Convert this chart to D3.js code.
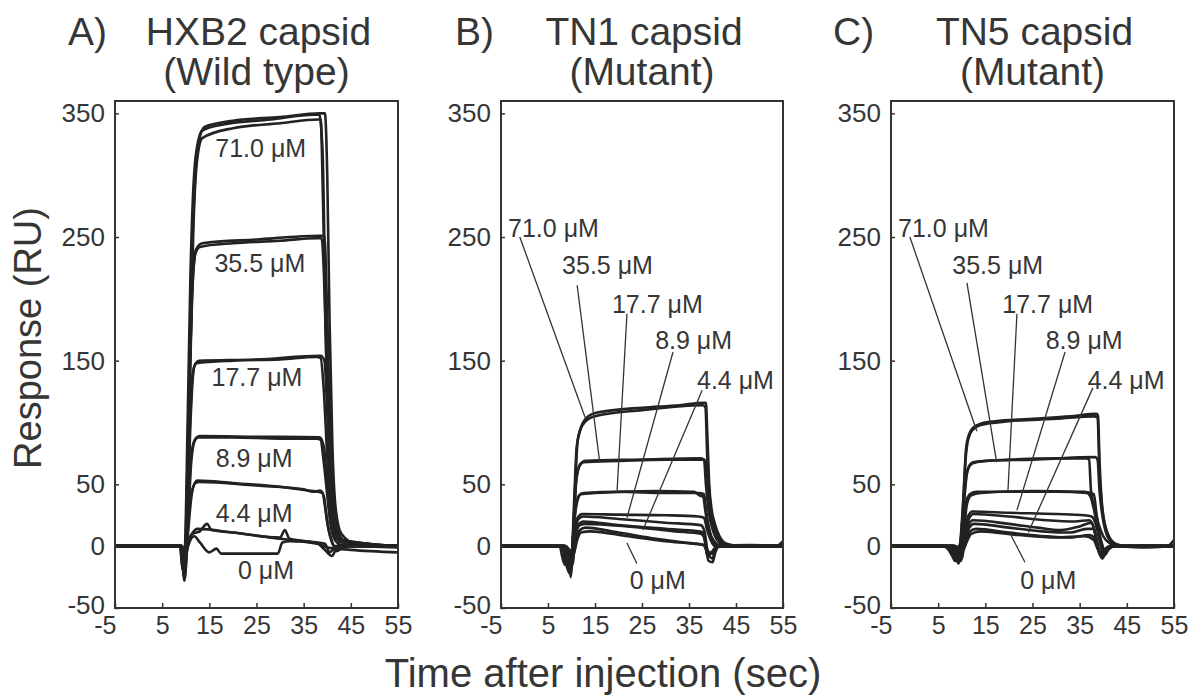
<!DOCTYPE html>
<html>
<head>
<meta charset="utf-8">
<script src="https://cdn.jsdelivr.net/npm/d3@7"></script>
<style>
  body { margin: 0; background: #fff; }
  text { font-family: "Liberation Sans", Arial, sans-serif; fill: #363636; }
</style>
</head>
<body>
<div id="chart"></div>
<script>
const width = 1197, height = 698;

const xDomain = [-5, 55];
const yDomain = [-50, 360];
const xTicks = [-5, 5, 15, 25, 35, 45, 55];
const yTicks = [-50, 0, 50, 150, 250, 350];

const concentrations = ["71.0", "35.5", "17.7", "8.9", "4.4", "0"];
const panelLetters = ["A)", "B)", "C)"];
const panelNames = ["HXB2 capsid", "TN1 capsid", "TN5 capsid"];
const panelTypes = ["(Wild type)", "(Mutant)", "(Mutant)"];

// sensorgrams: [time (s), response (RU)]
const tracesA = [
  // 71.0 uM
  [[-5,0],[8.8,0],[9.3,-18],[9.8,-5],[10.4,100],[11.0,220],[11.5,280],[12.2,318],[13.5,336],[18,341],[28,345],[37.2,349],[38.3,349],[39.0,320],[39.6,200],[40.3,90],[41.0,35],[42,12],[44,3],[48,0],[55,0]],
  [[-5,0],[9.0,0],[9.6,-22],[10.0,-10],[10.6,100],[11.3,230],[11.9,292],[12.8,328],[14,339],[20,344],[30,347],[38.5,350],[39.5,350],[40.0,300],[40.5,180],[41.1,80],[41.8,30],[43,10],[46,2],[55,0]],
  [[-5,0],[9.1,0],[9.7,-28],[10.2,0],[10.9,140],[11.6,255],[12.4,312],[13.5,330],[20,338],[30,342],[38,345],[38.6,345],[39.1,280],[39.8,150],[40.6,60],[41.5,20],[43,5],[55,0]],
  // 35.5 uM
  [[-5,0],[8.8,0],[9.4,-20],[9.9,-3],[10.6,110],[11.3,200],[12.0,236],[13,242],[20,245],[30,247],[38,249],[38.8,249],[39.3,220],[39.9,140],[40.6,60],[41.4,20],[43,6],[46,1],[55,0]],
  [[-5,0],[9.0,0],[9.6,-24],[10.1,0],[10.8,120],[11.5,215],[12.2,240],[13.5,245],[25,248],[38.5,251],[39.4,251],[39.9,200],[40.5,110],[41.2,45],[42,15],[44,3],[55,0]],
  // 17.7 uM
  [[-5,0],[8.9,0],[9.5,-20],[10,0],[10.8,90],[11.5,140],[12.2,148],[20,150],[30,151],[37.8,153],[38.6,152],[39.2,130],[39.9,80],[40.6,35],[41.5,12],[43,3],[55,0]],
  [[-5,0],[9.1,0],[9.7,-26],[10.2,-5],[11,100],[11.8,145],[12.8,150],[25,151],[38.6,154],[39.4,150],[40,110],[40.7,55],[41.5,20],[43,5],[55,0]],
  // 8.9 uM
  [[-5,0],[9,0],[9.6,-22],[10.1,0],[10.9,60],[11.7,84],[12.5,88],[20,88],[30,87],[37.8,87],[38.6,86],[39.2,70],[39.9,45],[40.6,20],[41.5,6],[43,1],[55,0]],
  [[-5,0],[9.2,0],[9.8,-18],[10.3,5],[11.2,70],[12,86],[13,89],[25,88.5],[38.4,88],[39.3,80],[40,50],[40.8,22],[42,6],[55,0]],
  // 4.4 uM
  [[-5,0],[9,0],[9.6,-20],[10.1,0],[11,38],[11.8,50],[12.5,53],[20,51],[30,48],[36,45],[38,44],[39,43],[39.6,30],[40.2,15],[41,4],[42,-4],[43,-2],[45,0],[55,0]],
  [[-5,0],[9.2,0],[9.8,-15],[10.3,3],[11.2,40],[12,51],[13,52],[25,49],[35,46],[37,44],[38.5,45],[39.3,40],[39.9,22],[40.6,8],[41.5,0],[44,0],[55,-1]],
  // 0 uM
  [[-5,0],[9.2,0],[9.8,-12],[10.4,0],[11.5,10],[13,12],[14.5,18],[15.5,13],[20,11],[30,7],[31,13],[32,6],[38,3],[39.5,2],[40.5,-5],[41.5,-2],[45,0],[55,0]],
  [[-5,0],[9.3,0],[9.9,-10],[10.5,0],[11.8,8],[13,3],[15,-5],[16.5,-2],[17.5,-6],[29.5,-6],[30.5,3],[32,4],[38,2],[40,-1],[45,-3],[55,-5]],
  [[-5,0],[9,0],[9.6,-15],[10.2,0],[11.3,10],[12.5,14],[20,11],[30,6],[38,2],[39.5,-3],[41,-8],[42,-2],[45,0],[55,0]]
];

const tracesB = [
  // 71.0 uM
  [[-5,0],[7.5,0],[8,-8],[8.6,-15],[9.3,-5],[9.8,-25],[10.3,0],[10.8,50],[11.3,85],[12,96],[13,103],[14.5,107],[17,109],[25,112],[33,114],[38.3,116],[38.6,116],[38.9,90],[39.3,50],[39.8,30],[40.5,18],[41.5,8],[43,2],[46,0],[55,0]],
  [[-5,0],[8,0],[8.7,-10],[9.5,-20],[10.1,-5],[10.6,40],[11.1,80],[11.8,93],[13,101],[15,105],[25,110],[38,114],[38.5,112],[38.9,70],[39.5,35],[40.3,18],[41.5,6],[44,0],[55,0]],
  // 35.5 uM
  [[-5,0],[8,0],[8.7,-12],[9.6,-22],[10.2,0],[10.9,50],[11.6,64],[12.6,68],[20,69],[30,70],[38,70],[38.5,69],[38.9,45],[39.5,25],[40.3,12],[41.5,4],[44,0],[55,0]],
  [[-5,0],[8.2,0],[9,-15],[9.9,-18],[10.4,10],[11,52],[11.8,66],[13,69],[25,70],[37.5,71],[38.2,70],[38.6,50],[39.2,28],[40,14],[41.2,4],[43,0],[55,0]],
  // 17.7 uM
  [[-5,0],[8.3,0],[9,-10],[9.8,-20],[10.3,5],[10.9,32],[11.6,41],[12.5,43],[20,44],[30,43],[37,43],[38.2,42],[38.6,30],[39.2,16],[40,6],[41.5,1],[55,0]],
  [[-5,0],[8.4,0],[9.2,-14],[10,-8],[10.6,20],[11.2,36],[12,42],[15,43],[28,44.5],[36,44],[37.3,41],[38,40],[38.5,28],[39.3,12],[40.3,2],[42,0],[55,0]],
  // 8.9 uM
  [[-5,0],[8.5,0],[9.2,-12],[10,-10],[10.6,12],[11.3,23],[12.3,26],[20,25.5],[30,25],[37,24],[38.2,23],[38.8,14],[39.5,6],[40.5,0],[55,0]],
  [[-5,0],[8.6,0],[9.3,-8],[10.1,-12],[10.7,10],[11.5,22],[12.5,24],[20,22],[30,19],[37.5,17],[38.3,12],[39,-5],[40,-10],[40.6,-3],[41.5,0],[55,0]],
  // 4.4 uM
  [[-5,0],[8.4,0],[9.1,-6],[10.2,-15],[10.8,8],[11.6,18],[12.5,20],[20,17],[30,14],[37,12],[38,11],[38.6,-2],[39.2,-12],[40,-13],[40.6,-5],[41.5,0],[55,0]],
  [[-5,0],[8.6,0],[9.4,-4],[10.3,-10],[10.9,10],[11.8,17],[13,18],[22,16],[32,12],[37.5,10],[38.4,5],[39,-4],[40,-6],[41,0],[53.5,0],[55,4]],
  // 0 uM
  [[-5,0],[8.7,0],[9.5,-5],[10.4,-8],[11,6],[11.8,13],[13,15],[20,11],[28,6],[34,3],[38,1],[38.8,-3],[39.5,-6],[40.5,-2],[42,0],[55,0]],
  [[-5,0],[8.8,0],[9.6,-3],[10.5,-5],[11.2,5],[12,11],[14,12],[22,8],[30,4],[36,2],[38.3,1],[39,-8],[40,-4],[41,0],[48,1],[55,0]]
];

const tracesC = [
  // 71.0 uM
  [[-5,0],[6,0],[7,-2],[8,-8],[8.6,-12],[9.2,-3],[9.8,5],[10.4,40],[10.9,78],[11.5,90],[12.5,96],[14,99],[17,101],[25,103],[33,105],[38.6,107],[38.9,105],[39.2,70],[39.7,35],[40.3,18],[41.2,8],[42.5,2],[45,0],[55,0]],
  [[-5,0],[7,0],[8,-5],[8.8,-10],[9.6,0],[10.2,30],[10.8,70],[11.4,87],[12.3,94],[14,98],[20,101],[30,103],[38,105],[38.8,104],[39.2,60],[39.8,30],[40.6,14],[41.6,5],[44,0],[55,0]],
  // 35.5 uM
  [[-5,0],[7.5,0],[8.3,-6],[9,-12],[9.7,0],[10.3,30],[10.9,55],[11.6,65],[12.6,68],[20,70],[30,71],[36.5,71],[37,70],[37.4,45],[38.2,30],[39,18],[40,8],[41.5,2],[43,0],[55,0]],
  [[-5,0],[8,0],[8.7,-8],[9.3,-14],[10,0],[10.6,40],[11.3,62],[12.3,67],[15,69],[25,70],[38.3,72],[38.8,70],[39.2,45],[39.8,25],[40.5,12],[41.5,4],[43,0],[55,0]],
  // 17.7 uM
  [[-5,0],[8,0],[8.8,-8],[9.5,-10],[10.2,10],[10.9,35],[11.7,42],[13,44],[20,44],[30,44],[36.5,43],[37.3,40],[38,30],[38.8,15],[39.5,5],[40.5,-5],[41.3,-2],[42.5,0],[55,0]],
  [[-5,0],[8.2,0],[9,-6],[9.8,-12],[10.4,8],[11.1,34],[12,41],[14,43],[25,44.5],[36,44],[38,42],[38.6,25],[39.3,8],[40,-8],[40.6,-6],[41.5,0],[55,0]],
  // 8.9 uM
  [[-5,0],[8.2,0],[9,-6],[9.8,-8],[10.5,10],[11.3,24],[12.3,28],[20,27],[30,26],[36,25],[37.5,24],[38.4,18],[39.2,5],[40,-6],[40.8,-2],[42,0],[55,0]],
  [[-5,0],[8.4,0],[9.2,-5],[10,-10],[10.7,8],[11.5,22],[12.5,26],[20,24],[28,21],[34,20],[37,21],[38,15],[38.8,2],[39.5,-8],[40.3,-4],[41.5,0],[55,0]],
  // 4.4 uM
  [[-5,0],[8.3,0],[9.1,-4],[9.9,-6],[10.6,6],[11.4,17],[12.4,21],[20,18],[26,15],[31,13],[35,16],[37.5,19],[38.3,10],[39,-2],[39.7,-8],[40.5,-3],[42,0],[55,0]],
  [[-5,0],[8.5,0],[9.3,-3],[10.1,-5],[10.8,5],[11.6,15],[12.6,18],[20,15],[27,12],[33,11],[36.5,14],[38,14],[38.6,2],[39.3,-6],[40.2,-3],[41.5,0],[53.5,0],[55,5]],
  // 0 uM
  [[-5,0],[8.6,0],[9.4,-3],[10.2,-4],[10.9,4],[11.8,12],[13,14],[20,11],[28,8],[33,7],[37,9],[38.3,6],[39,-4],[39.8,-10],[40.6,-4],[42,0],[55,0]],
  [[-5,0],[8.7,0],[9.5,-2],[10.3,-3],[11,3],[12,10],[14,12],[22,9],[30,7],[36,8],[38,5],[38.8,-2],[39.6,-6],[40.5,-2],[41.5,0],[48,-1],[55,0]]
];

// concentration label anchors, data units [t, RU]
const labelsA = [[25.9, 322], [25.7, 229], [25.1, 137], [24.5, 71], [24.5, 27], [27, -19]];
const labelsMutant = [[-3.5, 257], [8.0, 227], [18.6, 196], [27.8, 167], [36.7, 134], [22.4, -27]];

// leader lines [from, to]
const leadersB = [
  [[-1, 250], [12.9, 104]],
  [[11.2, 211], [16, 68]],
  [[21.8, 188], [19.7, 45]],
  [[31.6, 157], [21.8, 23]],
  [[37.8, 126], [25.2, 13]],
  [[23.9, -14], [21.8, 2.5]]
];
const leadersC = [
  [[-1, 250], [13.2, 93]],
  [[11.1, 213], [17.4, 68]],
  [[21.7, 188], [19.8, 45]],
  [[31.9, 157], [21.7, 29]],
  [[37.8, 128], [24.1, 11]],
  [[23.4, -13], [20.2, 10.6]]
];

const panels = [
  {left: 115, right: 398, traces: tracesA, labels: labelsA, anchor: "middle", leaders: [], letterX: 68},
  {left: 501, right: 783, traces: tracesB, labels: labelsMutant, anchor: "start", leaders: leadersB, letterX: 455},
  {left: 891, right: 1174, traces: tracesC, labels: labelsMutant, anchor: "start", leaders: leadersC, letterX: 833}
];
const plotTop = 101, plotBottom = 608;

const svg = d3.select("#chart").append("svg")
  .attr("width", width).attr("height", height);

panels.forEach((p, i) => {
  const x = d3.scaleLinear().domain(xDomain).range([p.left, p.right]);
  const y = d3.scaleLinear().domain(yDomain).range([plotBottom, plotTop]);
  const g = svg.append("g");

  const line = d3.line()
    .x(d => x(d[0]))
    .y(d => y(d[1]))
    .curve(d3.curveMonotoneX);

  g.append("g").selectAll("path")
    .data(p.traces)
    .enter().append("path")
    .attr("d", line)
    .attr("fill", "none")
    .attr("stroke", "#222")
    .attr("stroke-width", 2.6)
    .attr("stroke-linejoin", "round");

  // leader lines
  g.append("g").selectAll("line")
    .data(p.leaders)
    .enter().append("line")
    .attr("x1", d => x(d[0][0])).attr("y1", d => y(d[0][1]))
    .attr("x2", d => x(d[1][0])).attr("y2", d => y(d[1][1]))
    .attr("stroke", "#333").attr("stroke-width", 1.3);

  g.append("g").selectAll("text")
    .data(p.labels)
    .enter().append("text")
    .attr("x", d => x(d[0]))
    .attr("y", d => y(d[1]))
    .attr("dy", "0.36em")
    .attr("text-anchor", p.anchor)
    .attr("font-size", 25)
    .text((d, j) => concentrations[j] + " \u03bcM");

  // frame
  g.append("rect")
    .attr("x", p.left).attr("y", plotTop)
    .attr("width", p.right - p.left).attr("height", plotBottom - plotTop)
    .attr("fill", "none").attr("stroke", "#333").attr("stroke-width", 2);

  const xAxis = d3.axisBottom(x).tickValues(xTicks).tickFormat(d => String(d))
    .tickSizeInner(-5).tickSizeOuter(0).tickPadding(8);
  const yAxis = d3.axisLeft(y).tickValues(yTicks).tickFormat(d => String(d))
    .tickSizeInner(-4).tickSizeOuter(0).tickPadding(10);

  const gx = g.append("g").attr("transform", `translate(0,${plotBottom})`).call(xAxis);
  gx.attr("font-family", null);
  gx.select(".domain").remove();
  gx.selectAll(".tick line").attr("stroke", "#333").attr("stroke-width", 1.5);
  gx.selectAll(".tick text").attr("font-size", 25).attr("fill", "#363636");
  gx.selectAll(".tick text").filter(d => d < 0)
    .attr("text-anchor", "end").attr("dx", 1);

  const gy = g.append("g").attr("transform", `translate(${p.left},0)`).call(yAxis);
  gy.attr("font-family", null);
  gy.select(".domain").remove();
  gy.selectAll(".tick line").attr("stroke", "#333").attr("stroke-width", 1.5);
  gy.selectAll(".tick text").attr("font-size", 26).attr("fill", "#363636");
  gy.selectAll(".tick text").filter(d => d < 0).attr("dy", "0.2em");

  // panel titles
  const cx = (p.left + p.right) / 2;
  g.append("text").attr("x", p.letterX).attr("y", 45)
    .attr("font-size", 39).text(panelLetters[i]);
  g.append("text").attr("x", cx + 2).attr("y", 45)
    .attr("text-anchor", "middle").attr("font-size", 39).text(panelNames[i]);
  g.append("text").attr("x", cx).attr("y", 85)
    .attr("text-anchor", "middle").attr("font-size", 39).text(panelTypes[i]);
});

svg.append("text")
  .attr("transform", "translate(41,338) rotate(-90)")
  .attr("text-anchor", "middle")
  .attr("font-size", 38)
  .text("Response (RU)");

svg.append("text")
  .attr("x", 603).attr("y", 687)
  .attr("text-anchor", "middle")
  .attr("font-size", 40)
  .text("Time after injection (sec)");
</script>
</body>
</html>
